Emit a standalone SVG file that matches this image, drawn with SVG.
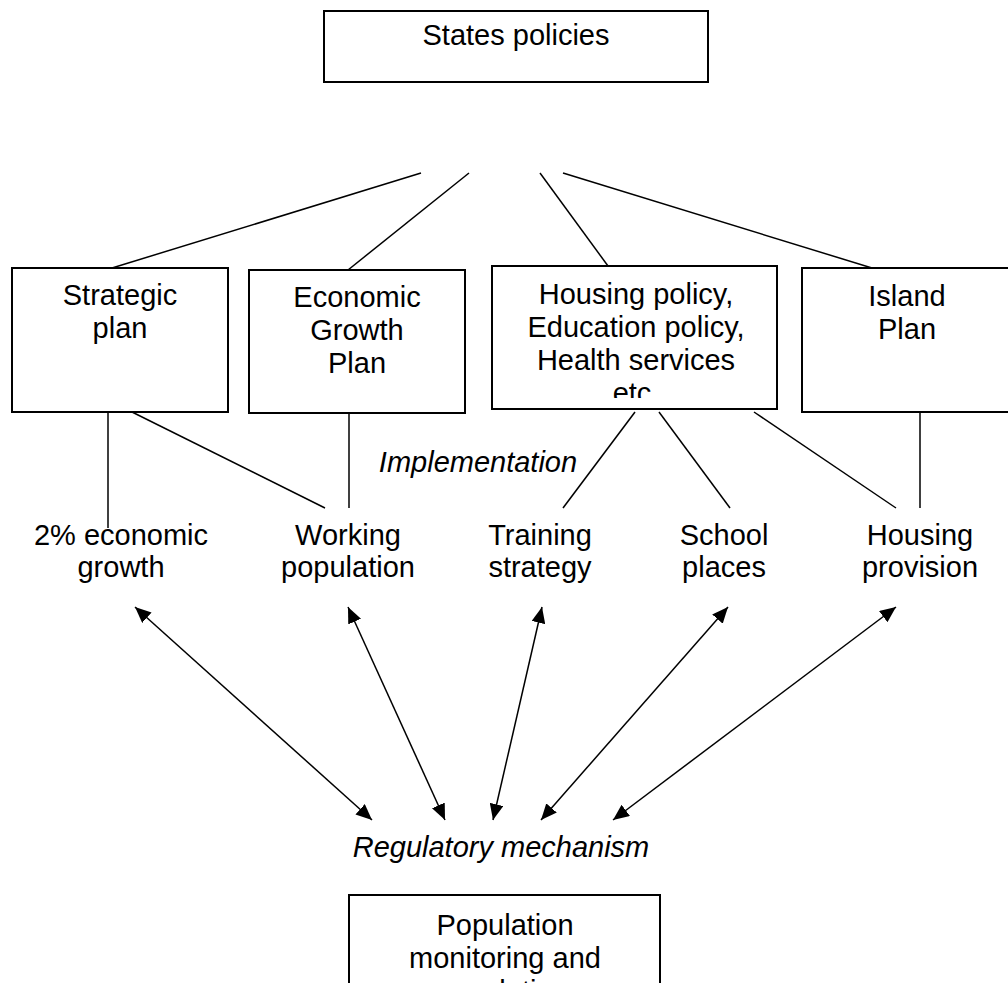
<svg xmlns="http://www.w3.org/2000/svg" width="1008" height="983" viewBox="0 0 1008 983">
<style>
.box{fill:#fff;stroke:#000;stroke-width:2}
.t{font-family:"Liberation Sans",Arial,sans-serif;font-size:29px;fill:#000;text-anchor:middle}
.i{font-style:italic}
.ln{stroke:#000;stroke-width:1.5;fill:none}
.ar{stroke:#000;stroke-width:1.5;fill:none;marker-start:url(#ah);marker-end:url(#ah)}
</style>
<defs>
<marker id="ah" viewBox="0 0 16 14" refX="16" refY="7" markerWidth="16" markerHeight="14" markerUnits="userSpaceOnUse" orient="auto-start-reverse">
<path d="M0,0 L16,7 L0,14 z" fill="#000"/>
</marker>
<clipPath id="hclip"><rect x="492" y="266" width="285" height="132"/></clipPath>
</defs>
<rect width="1008" height="983" fill="#fff"/>
<g id="connectors">
<line class="ln" x1="421" y1="173" x2="112" y2="268"/>
<line class="ln" x1="469" y1="173" x2="348" y2="270"/>
<line class="ln" x1="540" y1="173" x2="608" y2="266"/>
<line class="ln" x1="563" y1="173" x2="872" y2="268"/>
<line class="ln" x1="108" y1="412" x2="108" y2="528"/>
<line class="ln" x1="132" y1="412" x2="325" y2="508"/>
<line class="ln" x1="349" y1="413" x2="349" y2="508"/>
<line class="ln" x1="635" y1="412" x2="563" y2="508"/>
<line class="ln" x1="659" y1="412" x2="730" y2="508"/>
<line class="ln" x1="754" y1="412" x2="896" y2="508"/>
<line class="ln" x1="920" y1="412" x2="920" y2="508"/>
<line class="ar" x1="135" y1="607" x2="372" y2="820"/>
<line class="ar" x1="348" y1="607" x2="445" y2="820"/>
<line class="ar" x1="542" y1="607" x2="493" y2="820"/>
<line class="ar" x1="728" y1="607" x2="541" y2="820"/>
<line class="ar" x1="896" y1="607" x2="613" y2="820"/>
<text class="t i" x="478" y="472">Implementation</text>
<text class="t i" x="501" y="857">Regulatory mechanism</text>
</g>
<g id="states">
<rect class="box" x="324" y="11" width="384" height="71"/>
<text class="t" x="516" y="45">States policies</text>
</g>
<g id="strategic">
<rect class="box" x="12" y="268" width="216" height="144"/>
<text class="t" x="120" y="305">Strategic</text>
<text class="t" x="120" y="338">plan</text>
</g>
<g id="economic">
<rect class="box" x="249" y="270" width="216" height="143"/>
<text class="t" x="357" y="307">Economic</text>
<text class="t" x="357" y="340">Growth</text>
<text class="t" x="357" y="373">Plan</text>
</g>
<g id="housing">
<rect class="box" x="492" y="266" width="285" height="143"/>
<g clip-path="url(#hclip)">
<text class="t" x="636" y="304">Housing policy,</text>
<text class="t" x="636" y="337">Education policy,</text>
<text class="t" x="636" y="370">Health services</text>
<text class="t" x="636" y="403">etc.</text>
</g>
</g>
<g id="island">
<rect class="box" x="802" y="268" width="230" height="144"/>
<text class="t" x="907" y="306">Island</text>
<text class="t" x="907" y="339">Plan</text>
</g>
<g id="growth2">
<text class="t" x="121" y="545">2% economic</text>
<text class="t" x="121" y="577">growth</text>
</g>
<g id="working">
<text class="t" x="348" y="545">Working</text>
<text class="t" x="348" y="577">population</text>
</g>
<g id="training">
<text class="t" x="540" y="545">Training</text>
<text class="t" x="540" y="577">strategy</text>
</g>
<g id="school">
<text class="t" x="724" y="545">School</text>
<text class="t" x="724" y="577">places</text>
</g>
<g id="housingprov">
<text class="t" x="920" y="545">Housing</text>
<text class="t" x="920" y="577">provision</text>
</g>
<g id="population">
<rect class="box" x="349" y="895" width="311" height="120"/>
<text class="t" x="505" y="935">Population</text>
<text class="t" x="505" y="968">monitoring and</text>
<text class="t" x="505" y="1001">regulation</text>
</g>
</svg>
